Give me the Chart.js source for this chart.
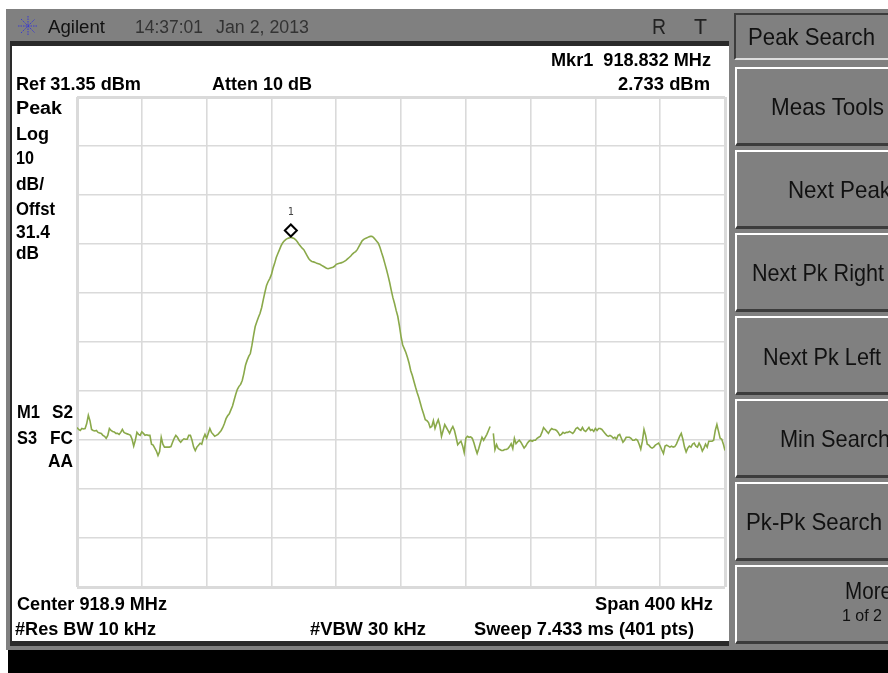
<!DOCTYPE html>
<html><head><meta charset="utf-8">
<script src="https://cdn.jsdelivr.net/npm/chart.js@4"></script>
<style>
html,body{margin:0;padding:0;background:#fff;width:888px;height:673px;overflow:hidden}
#stage{position:relative;width:888px;height:673px;overflow:hidden}
.b{position:absolute}
canvas{position:absolute;left:0;top:0}
.t{position:absolute;white-space:nowrap;transform-origin:0 50%;line-height:1;font-family:"Liberation Sans",Arial,sans-serif}
.key{position:absolute;left:735px;width:153px;background:#808080;border-left:2px solid #fff;border-top:2px solid #fff;border-bottom:3px solid #3c3c3c;box-sizing:border-box}
</style></head><body>
<div id="stage">
<div class="b" style="left:6px;top:9px;width:882px;height:641px;background:#808080"></div>
<div class="b" style="left:10px;top:41px;width:719px;height:605px;background:#2a2a2a"></div>
<div class="b" style="left:12px;top:46px;width:717px;height:595px;background:#fff"></div>
<div class="b" style="left:8px;top:650px;width:880px;height:23px;background:#000"></div>
<div class="b" style="left:734px;top:13px;width:154px;height:47px;background:#808080;border-left:2px solid #3c3c3c;border-top:2px solid #3c3c3c;border-bottom:2px solid #ddd;box-sizing:border-box"></div>
<div class="key" style="top:67px;height:79px"></div>
<div class="key" style="top:150px;height:79px"></div>
<div class="key" style="top:233px;height:79px"></div>
<div class="key" style="top:316px;height:79px"></div>
<div class="key" style="top:399px;height:79px"></div>
<div class="key" style="top:482px;height:79px"></div>
<div class="key" style="top:565px;height:79px"></div>
<svg class="b" style="left:17px;top:14px" width="22" height="24" viewBox="-11 -12 22 24">
<g stroke="#3a3ad0" stroke-width="1" stroke-dasharray="1.5 1" fill="none">
<path d="M0-10V10M-10 0H10M-7-7L7 7M-7 7L7-7"/></g></svg>
<canvas id="c" width="888" height="673"></canvas>
</div>
<script>
const centerMHz = 918.9;
const spanMHz = 0.4;
const sweepPoints = 401;
const refLevel = 31.35;
const dbPerDiv = 10;
const divisions = 10;
const markerFreq = 918.832;
const markerAmp = 2.733;
const markerGlyphAmp = 4.1;
const traceAmp = [
-36.1,-36.5,-36.7,-36.3,-36.4,-36.3,-35.3,-33.6,-34.7,-36.5,
-36.7,-36.8,-36.7,-37.1,-37.2,-37.3,-37.7,-37.9,-38.3,-37.7,
-36.3,-36.7,-36.9,-37.0,-37.3,-37.3,-37.5,-37.1,-36.5,-37.1,
-37.3,-37.4,-37.5,-37.7,-38.5,-39.9,-38.7,-37.1,-37.5,-37.7,
-37.0,-37.3,-37.7,-37.6,-37.7,-37.7,-39.5,-39.7,-40.3,-40.9,
-41.8,-41.0,-38.1,-39.5,-40.1,-40.1,-40.1,-40.1,-40.0,-39.1,
-38.3,-37.7,-38.1,-38.7,-39.1,-38.7,-38.4,-38.5,-38.5,-37.7,
-37.7,-38.7,-40.1,-40.8,-40.1,-39.7,-39.3,-39.5,-38.3,-37.5,
-38.3,-37.3,-36.3,-37.1,-37.5,-37.9,-37.7,-37.5,-37.1,-36.7,
-36.1,-35.3,-34.3,-33.7,-33.3,-32.5,-31.7,-30.5,-29.3,-28.3,
-27.7,-27.3,-26.5,-25.1,-23.4,-22.4,-21.6,-21.0,-19.3,-17.3,
-15.5,-14.5,-13.6,-12.8,-11.6,-10.0,-8.5,-7.1,-6.3,-5.7,
-4.9,-3.6,-2.6,-1.4,-0.6,0.2,1.0,1.6,2.0,2.3,
2.5,2.6,2.733,2.6,2.5,2.2,1.8,1.3,0.9,0.5,
0.2,-0.4,-1.0,-1.6,-2.0,-2.2,-2.3,-2.4,-2.6,-2.7,
-2.8,-3.0,-3.2,-3.4,-3.6,-3.7,-3.6,-3.5,-3.4,-3.2,
-2.8,-2.7,-2.6,-2.5,-2.4,-2.2,-2.0,-1.7,-1.4,-1.1,
-0.7,-0.4,-0.2,0.2,0.8,1.4,2.0,2.3,2.5,2.6,
2.8,2.9,2.9,2.7,2.3,1.9,1.5,0.7,-0.4,-1.4,
-2.6,-3.8,-5.1,-6.5,-8.1,-9.6,-10.8,-12.2,-13.4,-15.3,
-17.5,-19.2,-20.0,-20.8,-21.8,-23.0,-24.5,-25.5,-26.7,-27.9,
-29.0,-30.0,-31.2,-32.4,-33.4,-34.5,-34.7,-35.1,-36.1,-35.9,
-34.7,-36.3,-35.3,-34.5,-35.7,-37.9,-36.7,-35.5,-36.1,-36.7,
-37.3,-36.5,-35.9,-36.7,-38.1,-39.6,-39.2,-38.9,-39.8,-41.2,
-38.3,-37.9,-38.1,-38.0,-38.3,-39.2,-40.4,-41.4,-40.4,-39.2,
-38.1,-38.7,-38.1,-37.5,-36.7,-35.9,null,-37.3,-40.6,-39.6,
-40.4,-40.6,-40.8,-40.8,-40.6,-40.6,-40.4,-40.0,-39.4,-40.4,
-38.3,-39.4,-39.0,-38.7,-39.1,-39.7,-40.3,-39.9,-39.3,-38.9,
-38.7,-38.9,-38.7,-38.7,-38.3,-38.1,-37.9,-37.1,-36.1,-36.5,
-36.9,-37.3,-36.7,-36.3,-36.5,-36.5,-36.7,-37.1,-37.7,-37.5,
-37.1,-37.3,-37.1,-37.1,-36.9,-37.1,-37.3,-36.9,-36.3,-36.1,
-36.5,-36.7,-36.1,-36.7,-36.9,-36.5,-36.1,-36.7,-36.5,-36.9,
-36.3,-36.7,-36.3,-36.3,-36.5,-36.9,-37.3,-37.7,-37.9,-37.7,
-37.9,-38.3,-38.1,-38.5,-37.7,-37.5,-38.3,-39.1,-38.7,-38.1,
-38.1,-38.1,-38.3,-38.7,-38.7,-38.5,-38.7,-39.5,-40.5,-38.9,
-36.5,-37.7,-39.5,-39.7,-40.1,-40.3,-40.1,-39.7,-39.5,-39.3,
-39.9,-40.7,-41.4,-39.9,-39.7,-39.9,-40.1,-39.9,-40.1,-40.0,
-39.5,-38.7,-37.9,-37.3,-38.5,-40.1,-41.1,-40.3,-39.9,-40.1,
-39.5,-39.3,-39.9,-40.1,-39.3,-39.9,-40.9,-40.3,-39.5,-40.1,
-38.9,-38.9,-38.9,-38.7,-36.7,-35.5,-36.9,-38.3,-38.5,-39.5,
-40.8];

const sweepFreqs = traceAmp.map((_, i) => centerMHz - spanMHz / 2 + i * spanMHz / (sweepPoints - 1));
const tracePoints = traceAmp.map((a, i) => ({x: sweepFreqs[i], y: a}));

const markerNumberPlugin = {
  id: 'markerNumber',
  afterDatasetsDraw(chart) {
    const {ctx, scales} = chart;
    ctx.save();
    ctx.fillStyle = '#444';
    ctx.font = '10px "DejaVu Sans Mono", monospace';
    ctx.textAlign = 'center';
    ctx.textBaseline = 'middle';
    ctx.fillText('1', scales.x.getPixelForValue(markerFreq), scales.y.getPixelForValue(markerGlyphAmp) - 18);
    ctx.restore();
  }
};
const edgeWidth = c => (c.index === 0 || c.index === divisions) ? 3 : 1.6;

new Chart(document.getElementById('c'), {
  type: 'line',
  data: {datasets: [
    {label: 'Trace', data: tracePoints, borderColor: '#8aa94a', borderWidth: 1.6, pointRadius: 0, tension: 0, spanGaps: false, order: 2},
    {label: 'Mkr1', data: [{x: markerFreq, y: markerGlyphAmp}], showLine: false, pointStyle: 'rectRot', pointRadius: 6, borderWidth: 2, pointBorderColor: '#000', pointBackgroundColor: '#fff', order: 1}
  ]},
  options: {
    responsive: false, animation: false, events: [],
    layout: {padding: {left: 77, top: 97, right: 163, bottom: 86}},
    plugins: {legend: {display: false}, tooltip: {enabled: false}, title: {display: false}},
    scales: {
      x: {type: 'linear', min: centerMHz - spanMHz / 2, max: centerMHz + spanMHz / 2,
        ticks: {display: false, stepSize: spanMHz / divisions}, border: {display: false},
        grid: {color: '#dadada', lineWidth: edgeWidth, drawTicks: false}},
      y: {type: 'linear', min: refLevel - dbPerDiv * divisions, max: refLevel,
        ticks: {display: false, stepSize: dbPerDiv}, border: {display: false},
        grid: {color: '#dadada', lineWidth: edgeWidth, drawTicks: false}}
    }
  },
  plugins: [markerNumberPlugin]
});

const B = 'bold 18px "Liberation Sans"';
const K = '24px "Liberation Sans"';
const labels = [
 ['Agilent',48,27,57,'18px "Liberation Sans"','#111'],
 ['14:37:01',135,27,68,'18px "Liberation Sans"','#333'],
 ['Jan 2, 2013',216,27,93,'18px "Liberation Sans"','#333'],
 ['R',652,27,14,'22px "Liberation Sans"','#222'],
 ['T',694,27,13,'22px "Liberation Sans"','#222'],
 ['Mkr1  918.832 MHz',551,60,160,B,'#000'],
 ['2.733 dBm',618,84,92,B,'#000'],
 ['Ref 31.35 dBm',16,84,125,B,'#000'],
 ['Atten 10 dB',212,84,100,B,'#000'],
 ['Peak',16,108,46,B,'#000'],
 ['Log',16,134,33,B,'#000'],
 ['10',16,158,18,B,'#000'],
 ['dB/',16,184,28,B,'#000'],
 ['Offst',16,209,39,B,'#000'],
 ['31.4',16,232,34,B,'#000'],
 ['dB',16,253,23,B,'#000'],
 ['M1',17,412,23,B,'#000'],
 ['S2',52,412,21,B,'#000'],
 ['S3',17,438,20,B,'#000'],
 ['FC',50,438,23,B,'#000'],
 ['AA',48,461,25,B,'#000'],
 ['Center 918.9 MHz',17,604,150,B,'#000'],
 ['Span 400 kHz',595,604,118,B,'#000'],
 ['#Res BW 10 kHz',15,629,141,B,'#000'],
 ['#VBW 30 kHz',310,629,116,B,'#000'],
 ['Sweep 7.433 ms (401 pts)',474,629,220,B,'#000'],
 ['Peak Search',748,37,127,K,'#111'],
 ['Meas Tools',771,107,113,K,'#111'],
 ['Next Peak',788,190,103,K,'#111'],
 ['Next Pk Right',752,273,132,K,'#111'],
 ['Next Pk Left',763,357,118,K,'#111'],
 ['Min Search',780,439,110,K,'#111'],
 ['Pk-Pk Search',746,522,136,K,'#111'],
 ['More',845,591,47,'23px "Liberation Sans"','#111'],
 ['1 of 2',842,615,40,'17px "Liberation Sans"','#111']
];
const stage = document.getElementById('stage');
for (const [s,x,y,w,font,col] of labels) {
  const d = document.createElement('div');
  d.className = 't'; d.textContent = s; d.style.whiteSpace = 'pre';
  d.style.font = font; d.style.lineHeight = '1'; d.style.color = col;
  d.style.left = x + 'px';
  stage.appendChild(d);
  const r = d.getBoundingClientRect();
  d.style.top = (y - r.height / 2) + 'px';
  d.style.transform = 'scaleX(' + (w / r.width) + ')';
}
</script>
</body></html>
